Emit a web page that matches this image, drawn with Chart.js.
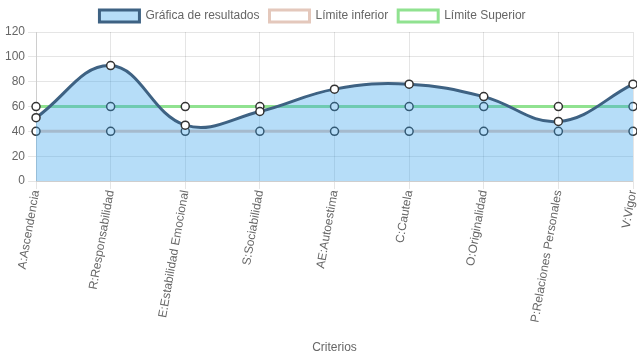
<!DOCTYPE html>
<html>
<head>
<meta charset="utf-8">
<script src="https://cdn.jsdelivr.net/npm/chart.js@4/dist/chart.umd.min.js"></script>
<style>
html,body{margin:0;padding:0;background:#fff;}
#wrap{width:637px;height:359px;}
</style>
</head>
<body>
<div id="wrap"><canvas id="c" width="637" height="359"></canvas></div>
<script>
const categories = ["A:Ascendencia","R:Responsabilidad","E:Estabilidad Emocional","S:Sociabilidad","AE:Autoestima","C:Cautela","O:Originalidad","P:Relaciones Personales","V:Vigor"];
const resultados = [51, 93, 45, 56, 74, 78, 68, 48, 78];
const limiteInferior = [40, 40, 40, 40, 40, 40, 40, 40, 40];
const limiteSuperior = [60, 60, 60, 60, 60, 60, 60, 60, 60];
const yTicks = [0, 20, 40, 60, 80, 100, 120];

const legendShift = {
  id: 'legendShift',
  afterLayout(chart) {
    if (chart.legend) { chart.legend.left -= 5; chart.legend.right -= 5; }
  }
};

new Chart(document.getElementById('c'), {
  type: 'line',
  plugins: [legendShift],
  data: {
    labels: categories,
    datasets: [
      {
        label: 'Gráfica de resultados',
        data: resultados,
        borderColor: '#3e6283',
        backgroundColor: 'rgba(54,162,235,0.36)',
        borderWidth: 3,
        fill: 'origin',
        tension: 0.4,
        pointRadius: 4,
        pointBorderWidth: 1.5,
        pointBackgroundColor: '#fff',
        pointBorderColor: '#333'
      },
      {
        label: 'Límite inferior',
        data: limiteInferior,
        borderColor: 'rgb(228,200,188)',
        backgroundColor: '#fff',
        borderWidth: 3,
        fill: false,
        tension: 0,
        pointRadius: 4,
        pointBorderWidth: 1.5,
        pointBackgroundColor: '#fff',
        pointBorderColor: '#333'
      },
      {
        label: 'Límite Superior',
        data: limiteSuperior,
        borderColor: 'rgb(144,226,144)',
        backgroundColor: '#fff',
        borderWidth: 3,
        fill: false,
        tension: 0,
        pointRadius: 4,
        pointBorderWidth: 1.5,
        pointBackgroundColor: '#fff',
        pointBorderColor: '#333'
      }
    ]
  },
  options: {
    responsive: false,
    animation: false,
    layout: { autoPadding: false, padding: { left: 2, right: 4 } },
    plugins: {
      legend: {
        labels: { color: '#666', font: { size: 12 }, boxWidth: 40 }
      },
      tooltip: { enabled: false }
    },
    scales: {
      x: {
        afterFit: (s) => {
          s.paddingRight = 0;
          s.getPadding = () => ({ left: s.paddingLeft || 0, top: s.paddingTop || 0, right: 0, bottom: s.paddingBottom || 0 });
        },
        grid: { color: 'rgba(0,0,0,0.1)' },
        ticks: { color: '#666', font: { size: 12 }, minRotation: 80, maxRotation: 80, padding: 0 },
        title: { display: true, text: 'Criterios', color: '#666', font: { size: 12 }, padding: { top: 17, bottom: 4 } }
      },
      y: {
        min: 0,
        max: 120,
        afterBuildTicks: (axis) => { axis.ticks = yTicks.map(v => ({ value: v })); },
        afterFit: (s) => {
          s.paddingTop = 0; s.paddingBottom = 0;
        },
        grid: { color: 'rgba(0,0,0,0.1)' },
        ticks: { color: '#666', font: { size: 12 } }
      }
    }
  }
});
</script>
</body>
</html>
